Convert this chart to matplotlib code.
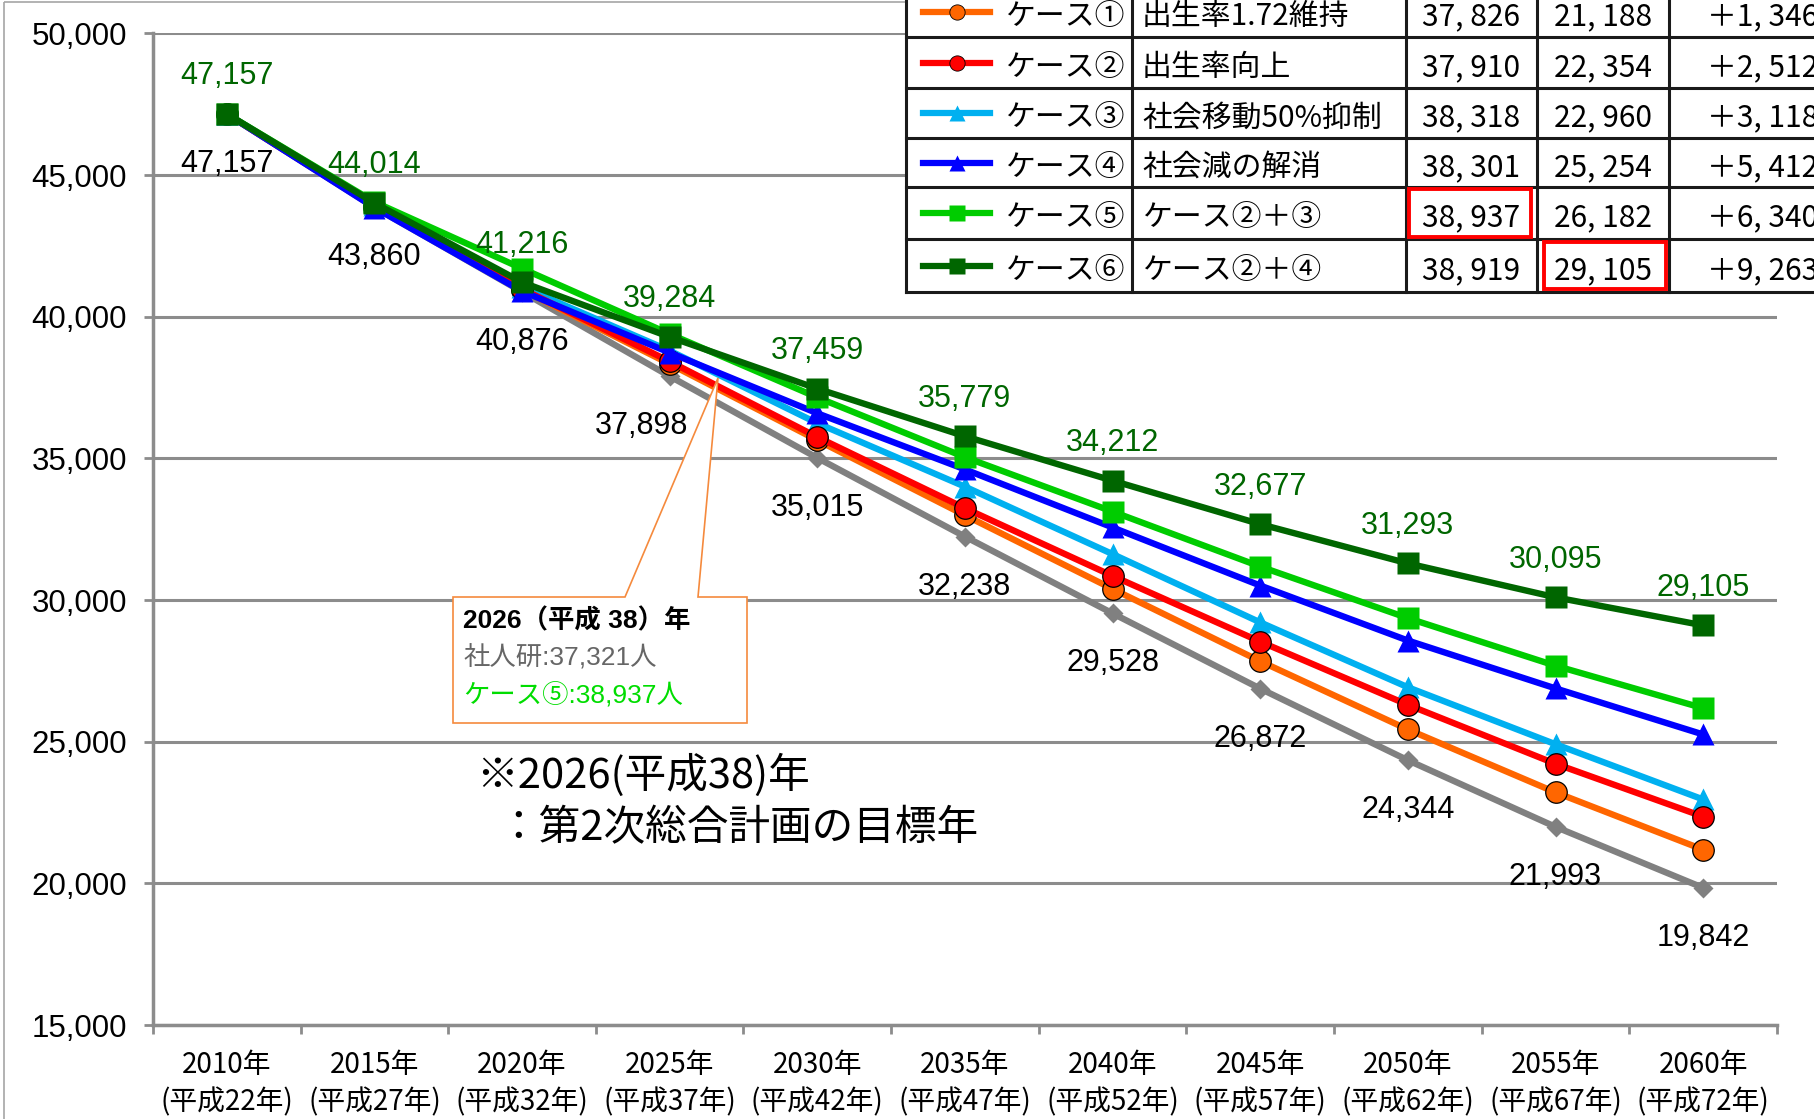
import matplotlib.pyplot as plt
from matplotlib.patches import Rectangle, Polygon

plt.rcParams['font.family'] = ['Liberation Sans', 'Noto Sans CJK JP']
CJK = ['Noto Sans CJK JP', 'DejaVu Sans']

# 推計人口（人）
years = ['2010年', '2015年', '2020年', '2025年', '2030年', '2035年',
         '2040年', '2045年', '2050年', '2055年', '2060年']
heisei = ['(平成22年)', '(平成27年)', '(平成32年)', '(平成37年)', '(平成42年)', '(平成47年)',
          '(平成52年)', '(平成57年)', '(平成62年)', '(平成67年)', '(平成72年)']

shajinken = [47157, 43860, 40876, 37898, 35015, 32238, 29528, 26872, 24344, 21993, 19842]
case1 = [47157, 43880, 40950, 38330, 35640, 32990, 30390, 27840, 25430, 23210, 21188]
case2 = [47157, 43900, 40980, 38420, 35750, 33240, 30850, 28530, 26300, 24220, 22354]
case3 = [47157, 43950, 41050, 38800, 36240, 34000, 31620, 29210, 26920, 24910, 22960]
case4 = [47157, 43850, 40900, 38730, 36590, 34610, 32560, 30510, 28570, 26880, 25254]
case5 = [47157, 44050, 41700, 39390, 37150, 35040, 33120, 31180, 29360, 27680, 26182]
case6 = [47157, 44014, 41216, 39284, 37459, 35779, 34212, 32677, 31293, 30095, 29105]

case_names = ['ケース①', 'ケース②', 'ケース③', 'ケース④', 'ケース⑤', 'ケース⑥']
case_desc = ['出生率1.72維持', '出生率向上', '社会移動50%抑制', '社会減の解消',
             'ケース②＋③', 'ケース②＋④']
pop_2026 = [37826, 37910, 38318, 38301, 38937, 38919]
shajinken_2026 = 37321

cases = [case1, case2, case3, case4, case5, case6]
colors = ['#FF6600', '#FF0000', '#00B0F0', '#0000FF', '#00CC00', '#006600']
markers = ['o', 'o', '^', '^', 's', 's']
zorders = [3, 5, 4, 6, 7, 8]

fig = plt.figure(figsize=(18.14, 11.19), dpi=100)
ax = fig.add_axes([0.0843, 0.0840, 0.8953, 0.8862])

x = list(range(len(years)))
ax.plot(x, shajinken, color='#808080', lw=4.6, marker='D', ms=10, mec='none', zorder=2)
for vals, c, m, z in zip(cases, colors, markers, zorders):
    edge = 'black' if m == 'o' else 'none'
    ax.plot(x, vals, color=c, lw=4.6, marker=m, ms=15.5, mec=edge, mew=0.9, zorder=z)

for i, v in enumerate(shajinken):
    # 2025年のラベルは吹き出しを避けて左へずらす
    dx = -20 if i == 3 else 0
    ax.annotate(f'{v:,}', (i, v), xytext=(dx, -36), textcoords='offset points',
                ha='center', va='center', fontsize=22, color='black', zorder=10)
for i, v in enumerate(case6):
    ax.annotate(f'{v:,}', (i, v), xytext=(0, 27), textcoords='offset points',
                ha='center', va='center', fontsize=22, color='#006600', zorder=10)

ax.set_xlim(-0.5, 10.5)
ax.set_ylim(15000, 50000)
ax.set_yticks(range(15000, 50001, 5000))
ax.set_yticklabels([f'{v:,}' for v in range(15000, 50001, 5000)], fontsize=22.5)
ax.set_xticks([i - 0.5 for i in range(len(years) + 1)])
ax.set_xticklabels([])
ax.set_xticks(x, minor=True)
ax.set_xticklabels([f'{a}\n{b}' for a, b in zip(years, heisei)], minor=True,
                   fontsize=20, family=CJK, linespacing=1.33)
ax.tick_params(axis='x', which='major', length=6.5, width=2, color='#8c8c8c', direction='out')
ax.tick_params(axis='x', which='minor', length=0, pad=18)
ax.tick_params(axis='y', length=6.5, width=2, color='#8c8c8c', pad=12)

ax.yaxis.grid(True, color='#8c8c8c', lw=2.2)
ax.set_axisbelow(True)
for s in ['top', 'right']:
    ax.spines[s].set_visible(False)
for s in ['left', 'bottom']:
    ax.spines[s].set_color('#8c8c8c')
    ax.spines[s].set_linewidth(2.5)

# 表・吹き出し・注記はピクセル座標で重ねる
ov = fig.add_axes([0, 0, 1, 1], zorder=10)
ov.set_xlim(0, 1814)
ov.set_ylim(1119, 0)
ov.axis('off')
ov.patch.set_alpha(0)

ov.add_patch(Rectangle((4, 1.5), 2000, 2000, fill=False, ec='#a6a6a6', lw=1.2, zorder=1))

row_edges = [-14, 37, 88, 138, 187, 239, 292]
col_edges = [906, 1132, 1406, 1537, 1669]
ov.add_patch(Rectangle((906, -20), 1000, 312, fc='white', ec='none', zorder=2))
for y in row_edges[1:]:
    ov.plot([906, 1814], [y, y], color='#1a1a1a', lw=2.2, zorder=3)
for xe in col_edges:
    ov.plot([xe, xe], [-20, 292], color='#1a1a1a', lw=2.2, zorder=3)

for i in range(6):
    yc = (row_edges[i] + row_edges[i + 1]) / 2
    ty = yc + 5
    edge = 'black' if markers[i] == 'o' else 'none'
    ov.plot([923, 990], [yc, yc], color=colors[i], lw=4.5, zorder=4)
    ov.plot([957], [yc], color=colors[i], marker=markers[i], ms=11, mec=edge, mew=0.6, zorder=5)
    ov.text(1005, ty, case_names[i], ha='left', va='center', fontsize=21.5, family=CJK, zorder=5)
    ov.text(1142, ty, case_desc[i], ha='left', va='center', fontsize=21.5, family=CJK, zorder=5)
    ov.text(1471, ty, f'{pop_2026[i]:,}'.replace(',', ', '), ha='center', va='center',
            fontsize=21.5, family=CJK, zorder=5)
    ov.text(1603, ty, f'{cases[i][-1]:,}'.replace(',', ', '), ha='center', va='center',
            fontsize=21.5, family=CJK, zorder=5)
    diff = cases[i][-1] - shajinken[-1]
    ov.text(1707, ty, '＋' + f'{diff:,}'.replace(',', ', '), ha='left', va='center',
            fontsize=21.5, family=CJK, zorder=5)

ov.add_patch(Rectangle((1409, 189), 122, 48, fill=False, ec='#FF0000', lw=2.8, zorder=6))
ov.add_patch(Rectangle((1544, 242), 122, 47, fill=False, ec='#FF0000', lw=2.8, zorder=6))

callout = Polygon([(453, 597), (625, 597), (718, 378), (698, 597), (747, 597),
                   (747, 723), (453, 723)], closed=True, fc='white', ec='#F58A3D',
                  lw=1.2, zorder=7)
ov.add_patch(callout)
ov.text(463, 621, '2026（平成 38）年', ha='left', va='center', fontsize=19,
        fontweight='bold', color='black', zorder=8)
ov.text(463, 658, f'社人研:{shajinken_2026:,}人', ha='left', va='center', fontsize=19,
        color='#666666', zorder=8)
ov.text(463, 695, f'ケース⑤:{pop_2026[4]:,}人', ha='left', va='center', fontsize=19,
        color='#00DD00', zorder=8)

ov.text(476, 775, '※2026(平成38)年', ha='left', va='center', fontsize=30, family=CJK, zorder=8)
ov.text(497, 829, '：第2次総合計画の目標年', ha='left', va='center', fontsize=30,
        family=CJK, zorder=8)

fig.savefig('out.png', dpi=100, facecolor='white')
